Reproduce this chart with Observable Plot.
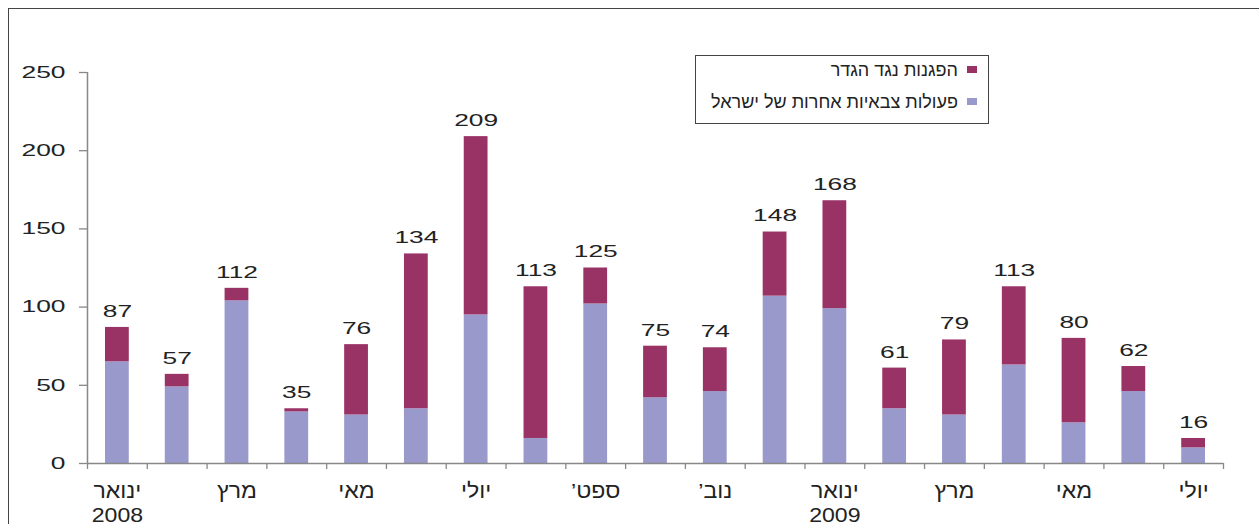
<!DOCTYPE html>
<html>
<head>
<meta charset="utf-8">
<script src="https://cdn.jsdelivr.net/npm/d3@7"></script>
<script src="https://cdn.jsdelivr.net/npm/@observablehq/plot@0.6"></script>
<style>
  html, body { margin: 0; padding: 0; background: #fff; overflow: hidden; width: 1259px; height: 524px; }
  #frame { position: absolute; left: 8px; top: 8px; width: 1400px; height: 700px; border: 1.5px solid #444; box-sizing: border-box; }
  #chart { position: absolute; left: 0; top: 0; }
  #legend { position: absolute; left: 695px; top: 55px; width: 294px; height: 69px; border: 1.5px solid #444; box-sizing: border-box; background: #fff; }
  .lt { position: absolute; font-family: "Liberation Sans", Arial, sans-serif; font-size: 18px; line-height: 20px; color: #222; direction: rtl; white-space: nowrap; }
  .sw { position: absolute; width: 10px; height: 7px; }
</style>
</head>
<body>
<div id="frame"></div>
<div id="chart"></div>
<div id="legend"></div>
<script>
// Data
const categories = ["ינואר 2008","פברואר","מרץ","אפריל","מאי","יוני","יולי","אוגוסט","ספטמבר","אוקטובר","נובמבר","דצמבר","ינואר 2009","פברואר","מרץ","אפריל","מאי","יוני","יולי"];
const totals   = [87, 57, 112, 35, 76, 134, 209, 113, 125, 75, 74, 148, 168, 61, 79, 113, 80, 62, 16];
const military = [65, 49, 104, 33, 31, 35, 95, 16, 102, 42, 46, 107, 99, 35, 31, 63, 26, 46, 10];
const tickLabels = ["ינואר\n2008", "מרץ", "מאי", "יולי", "’ספט", "’נוב", "ינואר\n2009", "מרץ", "מאי", "יולי"];
const yTicks = [0, 50, 100, 150, 200, 250];
const seriesNames = ["הפגנות נגד הגדר", "פעולות צבאיות אחרות של ישראל"];
const colors = ["#993366", "#9999CC"];

const rows = categories.map((c, i) => ({i, c, total: totals[i], mil: military[i]}));
const labelRows = tickLabels.map((t, k) => ({pos: k * 2 + 0.5, t}));
const boundaries = d3.range(categories.length + 1);

const font = '"Liberation Sans", Arial, sans-serif';

const svg = Plot.plot({
  width: 1259,
  height: 524,
  marginLeft: 87,
  marginRight: 36,
  marginTop: 72,
  marginBottom: 61,
  style: {background: "transparent", fontFamily: font, overflow: "visible"},
  x: {type: "linear", domain: [0, categories.length], label: null},
  y: {domain: [0, 250], label: null},
  marks: [
    Plot.rectY(rows, {x1: d => d.i, x2: d => d.i + 1, y1: 0, y2: "mil", fill: colors[1], insetLeft: 18, insetRight: 18}),
    Plot.rectY(rows, {x1: d => d.i, x2: d => d.i + 1, y1: "mil", y2: "total", fill: colors[0], insetLeft: 18, insetRight: 18}),
    Plot.text(rows, {x: d => d.i + 0.5, y: "total", text: d => String(d.total), dy: -16, fontSize: 17, fill: "#222", ariaLabel: () => "value label"}),
    Plot.axisY({ticks: yTicks, tickSize: 8, tickPadding: 14, fontSize: 16.5, stroke: "#888", strokeWidth: 1.3, fill: "#222", label: null}),
    Plot.axisX({ticks: boundaries, tickSize: 6, tickFormat: () => "", stroke: "#888", strokeWidth: 1.3, label: null}),
    Plot.ruleX([0], {stroke: "#888", strokeWidth: 1.5}),
    Plot.ruleY([0], {stroke: "#888", strokeWidth: 1.5}),
    Plot.text(labelRows, {x: "pos", text: "t", frameAnchor: "bottom", lineAnchor: "top", dy: 18, fontSize: 21, lineHeight: 1.12, fill: "#222", ariaLabel: () => "month label"})
  ]
});

document.getElementById("chart").appendChild(svg);

// widen glyphs horizontally around their anchor point
function stretch(elements, k, anchor) {
  elements.forEach(t => {
    const b = t.getBBox();
    const ax = anchor === "end" ? b.x + b.width : b.x + b.width / 2;
    const tr = t.getAttribute("transform") || "";
    t.setAttribute("transform", `${tr} translate(${ax},0) scale(${k},1) translate(${-ax},0)`);
  });
}
stretch(svg.querySelectorAll('g[aria-label="y-axis tick label"] text'), 1.6, "end");
stretch(svg.querySelectorAll('text[aria-label="value label"]'), 1.55, "middle");
stretch(svg.querySelectorAll('text[aria-label="month label"]'), 1.1, "middle");

// Legend
const legend = document.getElementById("legend");
const legendRows = [{name: seriesNames[0], color: colors[0], cy: 13}, {name: seriesNames[1], color: colors[1], cy: 45}];
legendRows.forEach(r => {
  const sw = document.createElement("div");
  sw.className = "sw";
  sw.style.background = r.color;
  sw.style.right = "11px";
  sw.style.top = (r.cy - 3.5) + "px";
  legend.appendChild(sw);
  const t = document.createElement("div");
  t.className = "lt";
  t.textContent = r.name;
  t.style.right = "30px";
  t.style.top = (r.cy - 9) + "px";
  legend.appendChild(t);
});
</script>
</body>
</html>
